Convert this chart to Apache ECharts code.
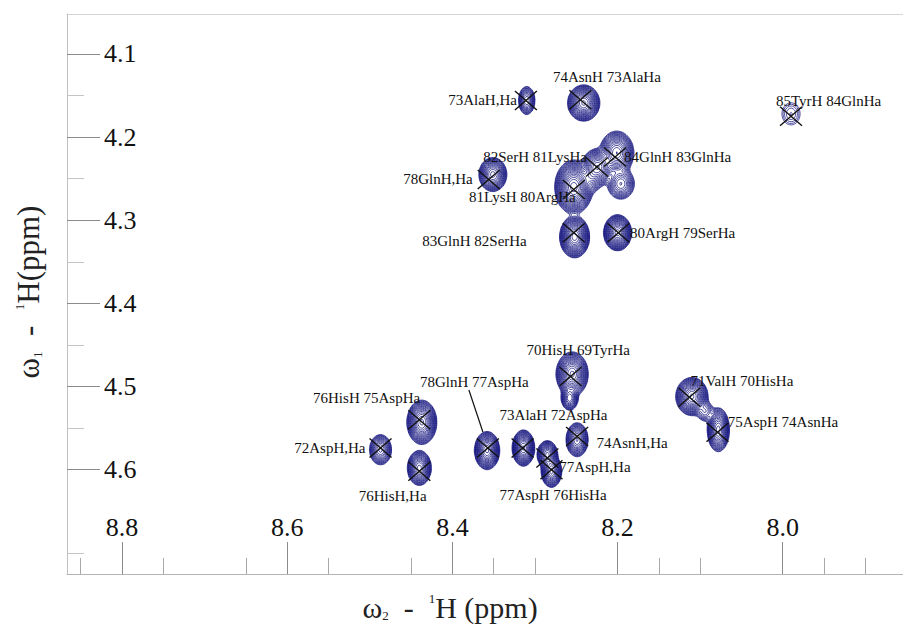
<!DOCTYPE html>
<html><head><meta charset="utf-8">
<script src="https://cdn.jsdelivr.net/npm/echarts@6/dist/echarts.min.js"></script>
<style>html,body{margin:0;padding:0;background:#fff}#c{width:903px;height:631px}
#c svg text{font-family:'Liberation Serif','Times New Roman',serif !important}</style>
</head><body><div id="c"></div>
<script>
// ---------- DATA ----------
// Assigned cross peaks (X markers): omega2 (1H, ppm), omega1 (1H, ppm)
const peakLabels = ["73AlaH,Ha","74AsnH 73AlaHa","82SerH 81LysHa","84GlnH 83GlnHa","81LysH 80ArgHa",
  "78GlnH,Ha","83GlnH 82SerHa","80ArgH 79SerHa","85TyrH 84GlnHa","70HisH 69TyrHa",
  "78GlnH 77AspHa","73AlaH 72AspHa","77AspH,Ha","77AspH 76HisHa","74AsnH,Ha",
  "76HisH 75AspHa","76HisH,Ha","72AspH,Ha","71ValH 70HisHa","75AspH 74AsnHa"];
const peakW2 = [8.311,8.245,8.225,8.203,8.253, 8.356,8.253,8.199,7.990,8.257,
  8.357,8.315,8.285,8.280,8.249, 8.440,8.440,8.487,8.113,8.079];
const peakW1 = [4.156,4.155,4.236,4.224,4.263, 4.251,4.315,4.315,4.175,4.488,
  4.574,4.574,4.586,4.600,4.560, 4.540,4.602,4.574,4.513,4.555];

// Spectrum components used for the contour map
const compW2  = [8.310,8.241,8.253,8.224,8.201,8.196,8.351,8.252,8.200,7.990,8.255,8.258,8.358,8.314,8.285,8.280,8.249,8.437,8.440,8.487,8.110,8.078,8.094,8.232];
const compW1  = [4.156,4.159,4.260,4.236,4.219,4.256,4.245,4.320,4.315,4.172,4.485,4.514,4.577,4.574,4.582,4.602,4.564,4.543,4.598,4.576,4.512,4.552,4.530,4.248];
const compAmp = [15,60,100,45,45,15,40,80,80,2.5,60,18,60,60,40,40,30,60,40,20,60,40,6,12];
const compSd2 = [0.0042,0.0068,0.0076,0.0070,0.0075,0.0070,0.0062,0.0061,0.0057,0.0081,0.0068,0.0042,0.0053,0.0047,0.0045,0.0045,0.0051,0.0063,0.0053,0.0054,0.0068,0.0049,0.0050,0.0060];
const compSd1 = [0.0072,0.0076,0.0107,0.0080,0.0095,0.0080,0.0075,0.0085,0.0073,0.0098,0.0093,0.0060,0.0080,0.0076,0.0062,0.0071,0.0078,0.0093,0.0077,0.0074,0.0080,0.0097,0.0060,0.0080];

// Axis ticks
const xMajorTicks = [8.8,8.6,8.4,8.2,8.0];
const xMinorTicks = [8.85,8.75,8.65,8.55,8.45,8.35,8.30,8.15,8.10,7.95,7.90];
const yMajorTicks = [4.1,4.2,4.3,4.4,4.5,4.6];
const yMinorTicks = [4.15,4.25,4.35,4.45,4.55,4.7];

// ---------- LAYOUT / STYLE ----------
const X_MIN = 7.8544, X_MAX = 8.8666, Y_MIN = 4.0519, Y_MAX = 4.7255;
// label offsets in px relative to marker: [dx, dy, align, leader]
const labelLayout = [
  [-9,-1,'right'],[-27.5,-22.7,'left'],[-10,-10,'right'],[9,0,'left'],[2,8,'right'],
  [-16,-1,'right'],[-47,8.7,'right'],[11.7,0,'left'],[-15,-15.3,'left'],[-44,-27,'left'],
  [-68,-66.3,'left',[-19,-58,-5,-16]],[-23,-33,'left'],[12,8.7,'left'],[-52,25,'left'],[19.3,6.3,'left'],
  [-106.3,-21.7,'left'],[-60.7,24.7,'left'],[-15,0,'right'],[1,-16.3,'left'],[10.3,-10.3,'left']
];
const SERIF = 'Liberation Serif';

// ---------- CONTOUR COMPUTATION ----------
const GX0 = 7.95, GX1 = 8.53, GY0 = 4.11, GY1 = 4.65, STEP = 0.0022;
const nx = Math.round((GX1-GX0)/STEP)+1, ny = Math.round((GY1-GY0)/STEP)+1;
const field = new Float32Array(nx*ny);
for (let c=0;c<compW2.length;c++){
  const cx=compW2[c], cy=compW1[c], A=compAmp[c], sx=compSd2[c], sy=compSd1[c];
  const i0=Math.max(0,Math.floor((cx-6*sx-GX0)/STEP)), i1=Math.min(nx-1,Math.ceil((cx+6*sx-GX0)/STEP));
  const j0=Math.max(0,Math.floor((cy-6*sy-GY0)/STEP)), j1=Math.min(ny-1,Math.ceil((cy+6*sy-GY0)/STEP));
  for (let j=j0;j<=j1;j++){
    const dy=(GY0+j*STEP-cy)/sy;
    for (let i=i0;i<=i1;i++){
      const dx=(GX0+i*STEP-cx)/sx;
      field[j*nx+i]+=A*Math.exp(-0.5*(dx*dx+dy*dy));
    }
  }
}
const levels=[]; {let L=1; while(L<110){levels.push(L); L*=1.25;}}
const TABLE={1:[3,0],2:[0,1],3:[3,1],4:[1,2],5:[3,0,1,2],6:[0,2],7:[3,2],8:[2,3],9:[0,2],10:[0,1,2,3],11:[1,2],12:[1,3],13:[0,1],14:[0,3]};
function contour(L){
  const segs=[];
  for (let j=0;j<ny-1;j++){
    for (let i=0;i<nx-1;i++){
      const v0=field[j*nx+i], v1=field[j*nx+i+1], v2=field[(j+1)*nx+i+1], v3=field[(j+1)*nx+i];
      let c=0; if(v0>L)c|=1; if(v1>L)c|=2; if(v2>L)c|=4; if(v3>L)c|=8;
      if(c===0||c===15) continue;
      const xi=GX0+i*STEP, yj=GY0+j*STEP;
      const e=(k)=>{
        if(k===0) return [xi+STEP*(L-v0)/(v1-v0), yj];
        if(k===1) return [xi+STEP, yj+STEP*(L-v1)/(v2-v1)];
        if(k===2) return [xi+STEP*(L-v3)/(v2-v3), yj+STEP];
        return [xi, yj+STEP*(L-v0)/(v3-v0)];
      };
      const pr=TABLE[c];
      for (let p=0;p<pr.length;p+=2){const a=e(pr[p]),b=e(pr[p+1]); segs.push(a[0],a[1],b[0],b[1]);}
    }
  }
  return segs;
}
const levelSegs = levels.map(contour);

// ---------- CHART ----------
const chart = echarts.init(document.getElementById('c'), null, {renderer:'svg'});
const axisBase = {type:'value', inverse:true, splitLine:{show:false}};
const tickFont = {fontFamily:SERIF, fontSize:26, color:'#111'};
chart.setOption({
  animation:false,
  backgroundColor:'#fff',
  textStyle:{fontFamily:SERIF},
  grid:{left:67, right:0, top:14, bottom:57},
  xAxis:[
    Object.assign({}, axisBase, {min:X_MIN, max:X_MAX, position:'bottom', z:10,
      axisLine:{show:true, lineStyle:{color:'#b4b4b4', width:1}},
      axisTick:{show:true, inside:true, length:32, customValues:xMajorTicks, lineStyle:{color:'#8c8c8c'}},
      axisLabel:Object.assign({show:true, inside:true, margin:34, customValues:xMajorTicks, formatter:v=>v.toFixed(1)}, tickFont)}),
    Object.assign({}, axisBase, {min:X_MIN, max:X_MAX, position:'bottom',
      axisLine:{show:false},
      axisTick:{show:true, inside:true, length:16, customValues:xMinorTicks, lineStyle:{color:'#a8a8a8'}},
      axisLabel:{show:false}}),
    Object.assign({}, axisBase, {min:X_MIN, max:X_MAX, position:'top',
      axisLine:{show:true, lineStyle:{color:'#d4d4d4'}}, axisTick:{show:false}, axisLabel:{show:false}})
  ],
  yAxis:[
    Object.assign({}, axisBase, {min:Y_MIN, max:Y_MAX, position:'left', z:10,
      axisLine:{show:true, lineStyle:{color:'#c0c0c0', width:1}},
      axisTick:{show:true, inside:true, length:33, customValues:yMajorTicks, lineStyle:{color:'#8c8c8c'}},
      axisLabel:Object.assign({show:true, inside:true, margin:37, customValues:yMajorTicks, formatter:v=>v.toFixed(1)}, tickFont)}),
    Object.assign({}, axisBase, {min:Y_MIN, max:Y_MAX, position:'left',
      axisLine:{show:false},
      axisTick:{show:true, inside:true, length:17, customValues:yMinorTicks, lineStyle:{color:'#c4c4c4'}},
      axisLabel:{show:false}})
  ],
  graphic:[
    {type:'text', x:450, y:607, z:100, style:{
      text:'{a|ω}{b|2}{a|  -  }{c|1}{a|H (ppm)}', align:'center', verticalAlign:'middle',
      rich:{a:{fontFamily:SERIF, fontSize:30, fill:'#222'},
            b:{fontFamily:SERIF, fontSize:13, fill:'#222', verticalAlign:'bottom'},
            c:{fontFamily:SERIF, fontSize:13, fill:'#222', verticalAlign:'top'}}
    }},
    {type:'text', x:28, y:292, z:100, rotation:Math.PI/2, style:{
      text:'{a|ω}{b|1}{a|  -  }{c|1}{a|H(ppm)}', align:'center', verticalAlign:'middle',
      rich:{a:{fontFamily:SERIF, fontSize:31, fill:'#222'},
            b:{fontFamily:SERIF, fontSize:13, fill:'#222', verticalAlign:'bottom'},
            c:{fontFamily:SERIF, fontSize:13, fill:'#222', verticalAlign:'top'}}
    }}
  ],
  series:[
    {
      type:'custom', name:'contours', xAxisIndex:0, yAxisIndex:0, silent:true, z:1,
      data: levels.map((L,k)=>[ (X_MIN+X_MAX)/2, (Y_MIN+Y_MAX)/2, k ]),
      renderItem:function(params, api){
        const segs = levelSegs[params.dataIndex];
        let d='';
        for (let s=0;s<segs.length;s+=4){
          const a=api.coord([segs[s],segs[s+1]]), b=api.coord([segs[s+2],segs[s+3]]);
          d+='M'+a[0].toFixed(1)+' '+a[1].toFixed(1)+'L'+b[0].toFixed(1)+' '+b[1].toFixed(1);
        }
        if(!d) return null;
        return {type:'path', shape:{pathData:d}, style:{stroke:'#13137e', fill:null, lineWidth:0.75}};
      }
    },
    {
      type:'custom', name:'peaks', xAxisIndex:0, yAxisIndex:0, silent:true, z:5,
      data: peakW2.map((v,i)=>[v, peakW1[i], i]),
      renderItem:function(params, api){
        const p = api.coord([api.value(0), api.value(1)]);
        const i = params.dataIndex; const lay = labelLayout[i];
        const hx=11, hy=9.5;
        const children=[
          {type:'line', shape:{x1:p[0]-hx,y1:p[1]-hy,x2:p[0]+hx,y2:p[1]+hy}, style:{stroke:'#111', lineWidth:1.4}},
          {type:'line', shape:{x1:p[0]-hx,y1:p[1]+hy,x2:p[0]+hx,y2:p[1]-hy}, style:{stroke:'#111', lineWidth:1.4}},
          {type:'text', x:p[0]+lay[0], y:p[1]+lay[1], style:{text:peakLabels[i], fill:'#111', fontFamily:SERIF, fontSize:15, align:lay[2], verticalAlign:'middle'}}
        ];
        if (lay[3]) {
          const l=lay[3];
          children.push({type:'line', shape:{x1:p[0]+l[0],y1:p[1]+l[1],x2:p[0]+l[2],y2:p[1]+l[3]}, style:{stroke:'#111', lineWidth:1.2}});
        }
        return {type:'group', children};
      }
    }
  ]
});
</script>
</body></html>
